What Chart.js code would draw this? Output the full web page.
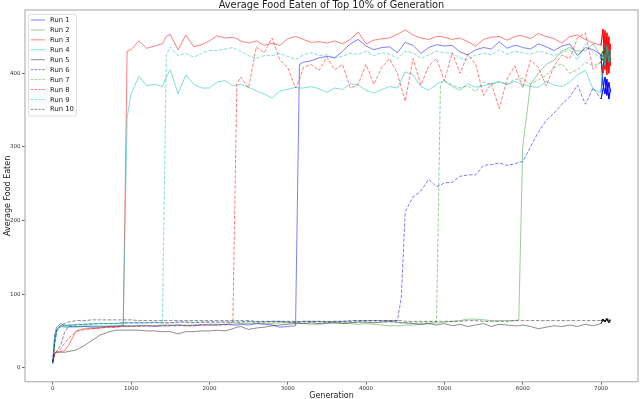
<!DOCTYPE html>
<html>
<head>
<meta charset="utf-8">
<script src="https://cdn.jsdelivr.net/npm/chart.js@4"></script>
<style>
  html, body { margin: 0; padding: 0; background: #fff; }
  .chart-container { position: relative; width: 640px; height: 399px; }
</style>
</head>
<body>
<div class="chart-container"><canvas id="chart"></canvas></div>
<script>
// generation (x) for every sample, shared by all runs
const generations = [0, 25, 50, 100, 150,
  200, 300, 400, 500, 600, 700, 800, 900, 950, 1000,
  1100, 1200, 1300, 1400, 1450, 1500, 1600, 1700, 1800, 1900, 2000,
  2100, 2200, 2300, 2350, 2400, 2500, 2600, 2700, 2800, 2900, 3000,
  3100, 3150, 3200, 3300, 3400, 3500, 3600, 3700, 3800, 3900, 4000,
  4100, 4200, 4300, 4400, 4450, 4500, 4600, 4700, 4800, 4900, 4950, 5000,
  5100, 5200, 5300, 5400, 5500, 5600, 5700, 5800, 5900, 5950, 6000,
  6100, 6200, 6300, 6400, 6500, 6600, 6700, 6800, 6900, 7000,
  7025, 7050, 7075, 7100, 7120]

const run1 = [7, 45, 55, 60, 57,
  57, 56, 56, 55, 55, 56, 56, 57, 57, 57,
  57, 57, 56, 57, 57, 57, 58, 57, 57, 58, 58,
  58, 59, 58, 58, 59, 58, 60, 59, 58, 55, 56,
  57, 412, 415, 417, 421, 423, 421, 430, 440, 446, 437,
  432, 435, 436, 428, 435, 442, 438, 427, 435, 439, 438, 437,
  438, 429, 425, 432, 435, 433, 443, 434, 438, 437, 435,
  433, 440, 436, 431, 437, 440, 424, 435, 432, 425,
  385, 372, 392, 365, 378]

const run2 = [7, 30, 50, 56, 55,
  55, 55, 56, 56, 56, 56, 57, 56, 56, 56,
  57, 57, 57, 58, 58, 58, 58, 58, 58, 59, 59,
  59, 59, 59, 60, 60, 60, 60, 60, 60, 61, 61,
  61, 61, 60, 59, 59, 60, 61, 61, 60, 59, 60,
  59, 58, 57, 57, 57, 58, 58, 59, 60, 61, 61, 62,
  63, 64, 66, 66, 65, 64, 64, 64, 64, 65, 300,
  385, 400, 412, 418, 430, 435, 430, 431, 440, 424,
  430, 415, 435, 420, 428]

const run3 = [7, 20, 21, 22, 23,
  30, 50, 53, 53, 54, 55, 55, 57, 430, 432,
  444, 434, 437, 440, 450, 453, 432, 452, 436, 439, 444,
  451, 448, 449, 447, 444, 441, 444, 438, 441, 438, 447,
  450, 448, 446, 442, 443, 441, 444, 440, 446, 456, 440,
  445, 447, 448, 453, 456, 459, 452, 448, 446, 450, 450, 449,
  446, 448, 443, 437, 446, 449, 450, 445, 450, 451, 451,
  447, 454, 450, 447, 441, 450, 452, 446, 441, 438,
  460, 405, 455, 400, 440]

const run4 = [5, 40, 52, 56, 56,
  56, 56, 57, 57, 57, 57, 57, 58, 340, 372,
  396, 383, 385, 382, 395, 405, 372, 398, 385, 380, 380,
  388, 390, 383, 384, 385, 381, 376, 372, 366, 376, 378,
  381, 380, 380, 382, 379, 374, 380, 378, 386, 384, 377,
  373, 378, 382, 380, 391, 402, 398, 382, 377, 385, 388, 390,
  382, 377, 386, 381, 383, 386, 389, 385, 389, 387, 385,
  382, 381, 389, 384, 382, 388, 398, 404, 378, 374,
  410, 425, 405, 430, 415]

const run5 = [7, 20, 21, 21, 21,
  22, 24, 30, 37, 44, 48, 51, 51, 51, 51,
  51, 50, 50, 49, 49, 49, 46, 49, 49, 50, 50,
  51, 50, 53, 55, 56, 52, 54, 55, 57, 58, 59,
  60, 60, 60, 61, 60, 61, 61, 60, 61, 62, 62,
  61, 62, 63, 62, 61, 61, 60, 59, 60, 58, 59, 60,
  57, 59, 56, 58, 60, 56, 59, 58, 57, 57, 58,
  56, 53, 55, 57, 56, 58, 56, 59, 57, 60,
  65, 62, 66, 61, 64]

const run6 = [7, 20, 22, 30, 48,
  56, 58, 59, 59, 60, 60, 60, 61, 61, 61,
  61, 61, 62, 61, 61, 61, 62, 62, 61, 62, 62,
  62, 62, 62, 62, 62, 63, 62, 62, 63, 63, 62,
  62, 62, 63, 63, 63, 62, 63, 63, 63, 64, 64,
  64, 64, 64, 64, 95, 212, 232, 240, 256, 246, 248, 251,
  252, 260, 262, 262, 275, 276, 278, 275, 277, 279, 280,
  300, 320, 336, 346, 358, 368, 384, 358, 380, 365,
  378, 395, 370, 388, 375]

const run7 = [7, 35, 50, 57, 58,
  58, 59, 59, 60, 60, 60, 60, 61, 61, 61,
  61, 61, 61, 61, 61, 61, 62, 62, 62, 62, 62,
  62, 62, 62, 62, 62, 62, 62, 62, 62, 62, 62,
  62, 62, 62, 62, 62, 62, 62, 62, 62, 62, 62,
  62, 62, 62, 61, 61, 61, 61, 61, 62, 62, 385, 390,
  384, 380, 383, 375, 388, 385, 388, 385, 392, 392, 393,
  385, 391, 397, 408, 413, 400, 405, 415, 410, 415,
  420, 435, 412, 428, 418]

const run8 = [7, 20, 22, 25, 33,
  40, 49, 52, 53, 54, 55, 55, 56, 56, 56,
  56, 57, 57, 57, 57, 57, 57, 57, 57, 58, 58,
  58, 58, 62, 385, 395, 380, 436, 428, 448, 418, 408,
  380, 392, 408, 412, 404, 422, 405, 412, 380, 385, 412,
  385, 408, 420, 400, 381, 362, 420, 384, 410, 420, 405, 390,
  428, 400, 426, 412, 370, 386, 352, 392, 410, 395, 380,
  418, 408, 383, 410, 425, 420, 448, 455, 405, 416,
  400, 458, 398, 450, 410]

const run9 = [5, 40, 52, 57, 58,
  58, 59, 59, 60, 60, 60, 60, 61, 61, 61,
  61, 61, 61, 61, 425, 436, 424, 427, 422, 427, 431,
  431, 433, 435, 432, 430, 424, 420, 424, 424, 427, 423,
  419, 422, 425, 428, 424, 425, 421, 423, 427, 426, 430,
  424, 428, 426, 420, 425, 430, 428, 420, 425, 430, 429, 428,
  427, 421, 418, 425, 427, 425, 432, 426, 430, 429, 428,
  426, 430, 428, 424, 428, 432, 418, 440, 428, 420,
  425, 410, 438, 415, 430]

const run10 = [7, 35, 50, 57, 60,
  62, 64, 64, 65, 65, 65, 65, 65, 65, 65,
  64, 64, 64, 64, 64, 64, 64, 64, 64, 64, 64,
  64, 64, 64, 64, 64, 64, 63, 63, 63, 63, 63,
  63, 63, 63, 63, 63, 63, 63, 63, 64, 64, 64,
  64, 64, 64, 64, 64, 63, 63, 63, 63, 63, 63, 63,
  63, 63, 64, 64, 63, 63, 63, 63, 64, 64, 64,
  64, 64, 64, 64, 64, 64, 64, 64, 64, 64,
  66, 63, 67, 64, 65]

const runLabels = ['Run 1', 'Run 2', 'Run 3', 'Run 4', 'Run 5', 'Run 6', 'Run 7', 'Run 8', 'Run 9', 'Run 10']
const xTicks = [0, 1000, 2000, 3000, 4000, 5000, 6000, 7000]
const yTicks = [0, 100, 200, 300, 400]

const runs = [run1, run2, run3, run4, run5, run6, run7, run8, run9, run10]
const fadedColors = ['rgba(0,0,255,0.5)', 'rgba(0,128,0,0.4)', 'rgba(255,0,0,0.5)', 'rgba(0,191,191,0.5)', 'rgba(0,0,0,0.45)']
const fullColors = ['#0000ff', '#008000', '#ff0000', '#00b3b3', '#000000']
const tailStart = generations.indexOf(7000)

const datasets = runs.map((vals, i) => ({
  label: runLabels[i],
  data: generations.map((g, j) => ({ x: g, y: vals[j] })),
  borderColor: fadedColors[i % 5],
  borderWidth: 1,
  borderDash: i >= 5 ? [3.5, 1.6] : [],
  pointRadius: 0,
  tension: 0,
  order: 20 - i
}))

// the last stretch of every run is drawn again in full colour
runs.forEach((vals, i) => {
  datasets.push({
    label: '',
    tail: true,
    data: generations.slice(tailStart).map((g, j) => ({ x: g, y: vals[tailStart + j] })),
    borderColor: fullColors[i % 5],
    borderWidth: 1,
    pointRadius: 0,
    tension: 0,
    order: 9 - i
  })
})

const font = '"DejaVu Sans", sans-serif'

const decorations = {
  id: 'decorations',
  afterDatasetsDraw(chart) {
    const { ctx, chartArea: a } = chart
    ctx.save()
    // axes frame
    ctx.strokeStyle = '#b4b4b4'
    ctx.lineWidth = 1.2
    ctx.strokeRect(a.left, a.top, a.right - a.left, a.bottom - a.top)

    // legend inside the plot, upper left
    ctx.fillStyle = 'rgba(255,255,255,0.85)'
    ctx.strokeStyle = '#d4d4d4'
    ctx.lineWidth = 0.8
    ctx.beginPath()
    ctx.roundRect(28.5, 14.5, 48, 101.5, 2)
    ctx.fill()
    ctx.stroke()
    ctx.font = '6.8px ' + font
    ctx.textBaseline = 'middle'
    chart.data.datasets.filter(d => !d.tail).forEach((d, i) => {
      const y = 20 + i * 9.93
      ctx.strokeStyle = d.borderColor
      ctx.lineWidth = 1
      ctx.setLineDash(d.borderDash.length ? [2.5, 1.3] : [])
      ctx.beginPath()
      ctx.moveTo(30.7, y)
      ctx.lineTo(45, y)
      ctx.stroke()
      ctx.setLineDash([])
      ctx.fillStyle = '#222'
      ctx.fillText(d.label, 50, y + 0.3)
    })
    ctx.restore()
  },
  afterDraw(chart) {
    const { ctx, chartArea: a } = chart
    const cx = (a.left + a.right) / 2
    ctx.save()
    ctx.fillStyle = '#222'
    ctx.textAlign = 'center'
    ctx.textBaseline = 'alphabetic'
    ctx.font = '9.8px ' + font
    ctx.fillText('Average Food Eaten of Top 10% of Generation', cx, 7.6)
    ctx.font = '8px ' + font
    ctx.textBaseline = 'middle'
    ctx.fillText('Generation', cx, 395.5)
    ctx.translate(8, (a.top + a.bottom) / 2)
    ctx.rotate(-Math.PI / 2)
    ctx.fillText('Average Food Eaten', 0, 0)
    ctx.restore()
  }
}

const config = {
  type: 'line',
  data: { datasets: datasets },
  options: {
    animation: false,
    responsive: true,
    maintainAspectRatio: false,
    layout: { padding: { top: 10, right: 2, left: 0, bottom: 0 } },
    plugins: {
      legend: { display: false },
      title: { display: false },
      tooltip: { enabled: false }
    },
    scales: {
      x: {
        type: 'linear',
        min: -354,
        max: 7472,
        afterFit: s => { s.height = 17.3 },
        afterBuildTicks: s => { s.ticks = xTicks.map(v => ({ value: v })) },
        grid: { drawOnChartArea: false, tickLength: 3, color: '#444', tickWidth: 0.8 },
        border: { display: false },
        ticks: { font: { family: font, size: 5.5 }, color: '#333', padding: 0.5, maxRotation: 0, autoSkip: false, callback: v => String(v) }
      },
      y: {
        type: 'linear',
        min: -19,
        max: 486,
        afterFit: s => { s.width = 25 },
        afterBuildTicks: s => { s.ticks = yTicks.map(v => ({ value: v })) },
        grid: { drawOnChartArea: false, tickLength: 3, color: '#444', tickWidth: 0.8 },
        border: { display: false },
        ticks: { font: { family: font, size: 5.5 }, color: '#333', padding: 1.5, callback: v => String(v) }
      }
    }
  },
  plugins: [decorations]
}

new Chart(document.getElementById('chart'), config)
</script>
</body>
</html>
